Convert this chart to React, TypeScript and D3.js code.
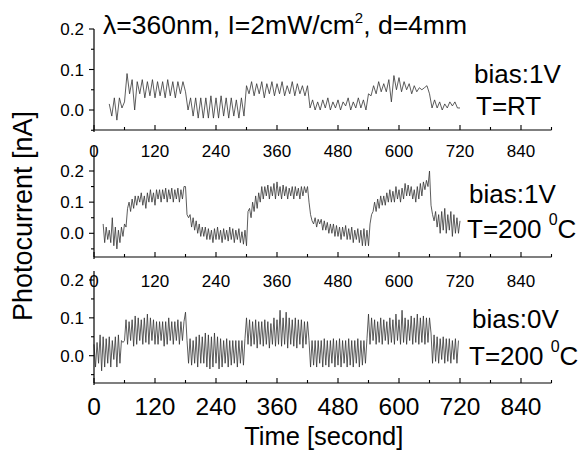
import React from "react";
import * as d3 from "d3";

// ---- DATA ----
const xMajorTicks = [0, 120, 240, 360, 480, 600, 720, 840];
const xMinorTicks = [60, 180, 300, 420, 540, 660, 780, 900];
const yMajorTicks = [0.0, 0.1, 0.2];
const yMinorTicks = [-0.05, 0.05, 0.15];

// Panel 1: bias 1V, T = RT; samples from t=30 s every 5 s
const rtStart = 30;
const rtStep = 5;
const rtValues = [
  0.015, -0.015, 0.03, -0.025, 0.03, 0.005, 0.02, 0.09, 0.04, 0.075,
  0.0, 0.07, 0.04, 0.075, 0.03, 0.07, 0.035, 0.075, 0.03, 0.07,
  0.035, 0.07, 0.03, 0.075, 0.035, 0.07, 0.03, 0.07, 0.04, 0.07,
  0.045, 0.0, 0.03, -0.015, 0.03, -0.02, 0.03, -0.02, 0.03, -0.02,
  0.035, -0.02, 0.03, -0.02, 0.035, -0.015, 0.03, -0.02, 0.03, -0.015,
  0.025, -0.02, 0.03, -0.015, 0.06, 0.04, 0.07, 0.035, 0.065, 0.04,
  0.07, 0.03, 0.065, 0.04, 0.07, 0.035, 0.065, 0.04, 0.07, 0.035,
  0.06, 0.04, 0.07, 0.035, 0.065, 0.04, 0.06, 0.035, 0.06, 0.005,
  0.025, 0.0, 0.02, 0.0, 0.025, 0.005, 0.03, 0.0, 0.02, 0.005,
  0.025, 0.0, 0.02, 0.01, 0.03, 0.0, 0.02, 0.005, 0.03, 0.005,
  0.025, 0.0, 0.04, 0.035, 0.06, 0.04, 0.07, 0.045, 0.065, 0.045,
  0.075, 0.02, 0.085, 0.05, 0.08, 0.045, 0.07, 0.05, 0.065, 0.04,
  0.06, 0.045, 0.055, 0.05, 0.055, 0.06, 0.04, 0.005, 0.025, 0.005,
  0.02, 0.0, 0.015, 0.005, 0.02, 0.01, 0.02, 0.005, 0.005,
];

// Panel 2: bias 1V, T = 200 C; samples from t=18 s every 3 s
const hotStart = 18;
const hotStep = 3;
const hotValues = [
  0.03, -0.03, 0.02, -0.02, 0.01, -0.03, 0.05, -0.04, 0.02, -0.05, 0.01, -0.03, 0.02, -0.01, 0.03, 0.02,
  0.08, 0.1, 0.07, 0.11, 0.08, 0.12, 0.09, 0.12, 0.1, 0.13, 0.09, 0.12, 0.08, 0.13, 0.1, 0.14, 0.1, 0.13, 0.09, 0.14,
  0.11, 0.14, 0.1, 0.14, 0.11, 0.145, 0.1, 0.14, 0.11, 0.145, 0.1, 0.14, 0.11, 0.145, 0.1, 0.14, 0.11, 0.15, 0.15,
  0.06, 0.05, 0.06, 0.02, 0.05, 0.01, 0.04, 0.0, 0.03, -0.01, 0.02, -0.01, 0.02, -0.02, 0.015, -0.02, 0.01, -0.03, 0.015, -0.02,
  0.02, -0.02, 0.01, -0.03, 0.015, -0.02, 0.01, -0.025, 0.02, -0.02, 0.015, -0.03, 0.01, -0.02, 0.015, -0.03, 0.005, -0.035, 0.01, -0.04,
  0.07, 0.08, 0.05, 0.1, 0.07, 0.12, 0.08, 0.13, 0.1, 0.15, 0.11, 0.15, 0.12, 0.155, 0.11, 0.15, 0.12, 0.16, 0.11, 0.165,
  0.12, 0.15, 0.11, 0.155, 0.12, 0.15, 0.11, 0.145, 0.12, 0.15, 0.11, 0.15, 0.12, 0.145, 0.11, 0.15, 0.12, 0.15, 0.13, 0.15,
  0.1, 0.06, 0.04, 0.03, 0.05, 0.02, 0.045, 0.03, 0.045, 0.01, 0.04, 0.01, 0.035, 0.0, 0.03, 0.0, 0.03, -0.01, 0.025, -0.01,
  0.02, -0.02, 0.02, -0.01, 0.025, -0.02, 0.015, -0.02, 0.02, -0.03, 0.01, -0.02, 0.015, -0.03, 0.01, -0.04, 0.015, -0.04, 0.01, -0.04,
  0.03, 0.06, 0.07, 0.1, 0.07, 0.11, 0.08, 0.12, 0.09, 0.12, 0.09, 0.13, 0.1, 0.14, 0.1, 0.135, 0.1, 0.15, 0.11, 0.14,
  0.1, 0.145, 0.11, 0.16, 0.12, 0.155, 0.12, 0.15, 0.11, 0.14, 0.1, 0.15, 0.11, 0.16, 0.12, 0.165, 0.14, 0.17, 0.15, 0.2,
  0.09, 0.06, 0.04, 0.07, 0.02, 0.06, 0.0, 0.07, 0.01, 0.08, 0.0, 0.06, 0.01, 0.07, -0.01, 0.06, 0.0, 0.05, 0.0, 0.04,
];

// Panel 3: bias 0V, T = 200 C; samples from t=0 s every 3 s
const zeroStart = 0;
const zeroStep = 3;
const zeroValues = [
  0.03, -0.03, 0.035, -0.02, 0.055, -0.04, 0.05, -0.03, 0.045, -0.02, 0.05, -0.03, 0.04, -0.01, 0.05, -0.03, 0.055, -0.02, 0.04, 0.035,
  0.04, 0.095, 0.03, 0.09, 0.04, 0.095, 0.025, 0.105, 0.03, 0.1, 0.04, 0.095, 0.03, 0.1, 0.035, 0.11, 0.03, 0.1, 0.04, 0.095,
  0.03, 0.09, 0.03, 0.09, 0.04, 0.09, 0.025, 0.09, 0.03, 0.1, 0.04, 0.09, 0.03, 0.09, 0.04, 0.095, 0.03, 0.09, 0.04, 0.09, 0.115,
  0.04, -0.02, 0.045, -0.025, 0.04, -0.02, 0.05, -0.03, 0.055, -0.02, 0.05, -0.02, 0.06, -0.03, 0.055, -0.035, 0.05, -0.03, 0.06, -0.02,
  0.05, -0.035, 0.045, -0.03, 0.04, -0.02, 0.045, -0.03, 0.04, -0.025, 0.04, -0.02, 0.04, -0.03, 0.04, -0.02, 0.04, -0.025, 0.045,
  0.1, 0.03, 0.095, 0.025, 0.09, 0.03, 0.095, 0.02, 0.09, 0.03, 0.09, 0.025, 0.095, 0.03, 0.09, 0.02, 0.085, 0.03, 0.1, 0.025,
  0.095, 0.03, 0.12, 0.025, 0.1, 0.03, 0.115, 0.02, 0.1, 0.03, 0.095, 0.025, 0.1, 0.02, 0.095, 0.03, 0.095, 0.02, 0.09, 0.03, 0.09,
  0.04, -0.03, 0.04, -0.025, 0.04, -0.03, 0.04, -0.02, 0.04, -0.03, 0.045, -0.025, 0.04, -0.03, 0.04, -0.02, 0.045, -0.03, 0.04, -0.025,
  0.045, -0.03, 0.04, -0.02, 0.04, -0.03, 0.045, -0.025, 0.04, -0.03, 0.04, -0.02, 0.045, -0.03, 0.04, -0.025, 0.04, -0.02, 0.045,
  0.11, 0.03, 0.1, 0.04, 0.095, 0.03, 0.09, 0.035, 0.1, 0.03, 0.095, 0.04, 0.09, 0.03, 0.1, 0.035, 0.095, 0.03, 0.11, 0.04,
  0.095, 0.03, 0.12, 0.035, 0.1, 0.03, 0.095, 0.04, 0.105, 0.03, 0.1, 0.035, 0.11, 0.03, 0.1, 0.035, 0.105, 0.03, 0.1, 0.035, 0.1,
  0.06, -0.02, 0.055, -0.015, 0.05, -0.02, 0.045, -0.01, 0.05, -0.02, 0.045, -0.015, 0.045, -0.02, 0.04, -0.01, 0.045, -0.02, 0.04,
];

const titleMain = "λ=360nm, I=2mW/cm";
const titleSup = "2";
const titleTail = ", d=4mm";
const xAxisLabel = "Time [second]";
const yAxisLabel = "Photocurrent [nA]";

// ---- LAYOUT ----
const W = 583;
const H = 452;
const FONT = "'Liberation Sans', Arial, Helvetica, sans-serif";

const x = d3.scaleLinear().domain([0, 900]).range([94, 551.5]);

type Panel = {
  start: number;
  step: number;
  values: number[];
  y0: number; // pixel of value 0
  y2: number; // pixel of value 0.2
  axisY: number;
  axisTop: number;
  tickFont: number;
  labelBaseline: number;
};

const panels: Panel[] = [
  { start: rtStart, step: rtStep, values: rtValues, y0: 110, y2: 29, axisY: 130, axisTop: 29, tickFont: 17, labelBaseline: 157 },
  { start: hotStart, step: hotStep, values: hotValues, y0: 233.3, y2: 171, axisY: 257, axisTop: 146, tickFont: 17, labelBaseline: 287 },
  { start: zeroStart, step: zeroStep, values: zeroValues, y0: 355.7, y2: 280, axisY: 383, axisTop: 271, tickFont: 24.5, labelBaseline: 415 },
];

function PanelView({ p }: { p: Panel }) {
  const y = d3.scaleLinear().domain([0, 0.2]).range([p.y0, p.y2]);
  const pts: [number, number][] = p.values.map((v, i) => [p.start + i * p.step, v]);
  const line = d3
    .line<[number, number]>()
    .x((d) => x(d[0]))
    .y((d) => y(d[1]));
  const x0 = x(0);
  return (
    <g>
      <path d={line(pts) || ""} fill="none" stroke="#333" strokeWidth={0.8} />
      {/* x axis */}
      <line x1={x0} x2={x(900)} y1={p.axisY} y2={p.axisY} stroke="#000" strokeWidth={1.2} />
      {xMajorTicks.map((t) => (
        <line key={"M" + t} x1={x(t)} x2={x(t)} y1={p.axisY} y2={p.axisY - 5} stroke="#000" strokeWidth={1.1} />
      ))}
      {xMinorTicks.map((t) => (
        <line key={"m" + t} x1={x(t)} x2={x(t)} y1={p.axisY} y2={p.axisY - 3} stroke="#000" strokeWidth={1.1} />
      ))}
      {xMajorTicks.map((t) => (
        <text
          key={"L" + t}
          x={x(t)}
          y={p.labelBaseline}
          textAnchor="middle"
          fontSize={p.tickFont}
          fontFamily={FONT}
          fill="#000"
        >
          {t}
        </text>
      ))}
      {/* y axis */}
      <line x1={x0} x2={x0} y1={p.axisY + 2} y2={p.axisTop} stroke="#000" strokeWidth={1.2} />
      {yMajorTicks.map((t) => (
        <line key={"yM" + t} x1={x0} x2={x0 - 5} y1={y(t)} y2={y(t)} stroke="#000" strokeWidth={1.1} />
      ))}
      {yMinorTicks.map((t) => (
        <line key={"ym" + t} x1={x0} x2={x0 - 3} y1={y(t)} y2={y(t)} stroke="#000" strokeWidth={1.1} />
      ))}
      {yMajorTicks.map((t) => (
        <text
          key={"yL" + t}
          x={x0 - 10}
          y={y(t)}
          dy="0.36em"
          textAnchor="end"
          fontSize={17}
          fontFamily={FONT}
          fill="#000"
        >
          {d3.format(".1f")(t)}
        </text>
      ))}
    </g>
  );
}

export default function App() {
  return (
    <svg width={W} height={H} style={{ position: "absolute", left: 0, top: 0, background: "#fff" }}>
      <rect x={0} y={0} width={W} height={H} fill="#fff" />
      {panels.map((p, i) => (
        <PanelView key={i} p={p} />
      ))}
      <text x={103} y={34} fontSize={26.5} fontFamily={FONT} fill="#000">
        {titleMain}
        <tspan dy={-11} fontSize={15}>{titleSup}</tspan>
        <tspan dy={11}>{titleTail}</tspan>
      </text>
      {/* annotations */}
      <g fontFamily={FONT} fontSize={26} fill="#000">
        <text x={474} y={83}>bias:1V</text>
        <text x={476} y={115}>T=RT</text>
        <text x={469} y={203}>bias:1V</text>
        <text x={467} y={238}>
          T=200 <tspan dy={-13} fontSize={16}>0</tspan>
          <tspan dy={13}>C</tspan>
        </text>
        <text x={472} y={328}>bias:0V</text>
        <text x={469} y={365}>
          T=200 <tspan dy={-13} fontSize={16}>0</tspan>
          <tspan dy={13}>C</tspan>
        </text>
      </g>
      <text x={x(450) + 1} y={445} textAnchor="middle" fontSize={25.5} fontFamily={FONT} fill="#000">
        {xAxisLabel}
      </text>
      <text
        transform={`translate(32,216) rotate(-90)`}
        textAnchor="middle"
        fontSize={27}
        fontFamily={FONT}
        fill="#000"
      >
        {yAxisLabel}
      </text>
    </svg>
  );
}
